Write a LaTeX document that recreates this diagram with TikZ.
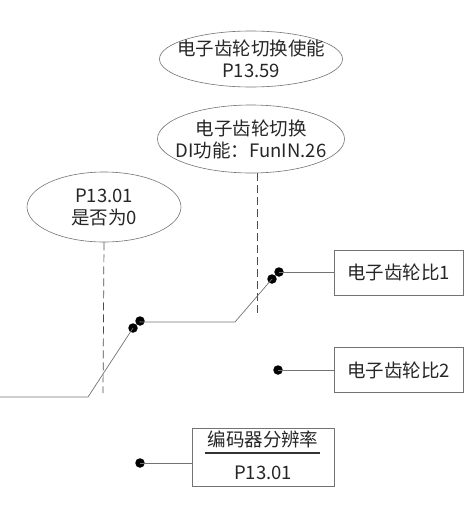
\documentclass[tikz,border=0pt]{standalone}
\usepackage{fontspec}
\setmainfont{Noto Sans CJK SC}
\usetikzlibrary{shapes.geometric}
\begin{document}
\begin{tikzpicture}[x=1pt,y=-1pt,
  lbl/.style={font=\fontsize{18.5}{22}\selectfont, align=center, text=black!85},
  ell/.style={ellipse, draw=black!55, line width=0.6pt, inner sep=0pt},
  bx/.style={draw=black!55, line width=0.6pt, minimum width=129pt, minimum height=45pt, font=\fontsize{18.5}{21.5}\selectfont, text=black!85},
  wire/.style={draw=black!55, line width=0.7pt},
  dsh/.style={draw=black!70, line width=0.7pt, dash pattern=on 8pt off 4pt},
  dot/.style={circle, fill=black, inner sep=0pt, minimum size=9.5pt}]
\useasboundingbox (0,0) rectangle (475,515);
% ellipses
\node[ell, minimum width=183pt, minimum height=56pt] (e1) at (251,59) {};
\node[lbl] (t1) at (e1) {电子齿轮切换使能\\P13.59};
\node[ell, minimum width=187pt, minimum height=68pt] (e2) at (251,139) {};
\node[lbl] (t2) at (e2) {电子齿轮切换\\DI功能：FunIN.26};
\node[ell, minimum width=154pt, minimum height=70pt] (e3) at (104,207) {};
\node[lbl] (t3) at (e3) {P13.01\\是否为0};
% boxes
\node[bx] (b1) at (398.5,272.5) {电子齿轮比1};
\node[bx] (b2) at (398.5,370) {电子齿轮比2};
\node[draw=black!55, line width=0.6pt, minimum width=142pt, minimum height=58pt] (b3) at (263,457) {};
\node[lbl] (num) at (263,439) {编码器分辨率};
\node[lbl] (den) at (263,473) {P13.01};
\draw[black!80, line width=1.2pt] (205,453) -- (320,453);
% dashed
\coordinate (d3) at (103,393);
\coordinate (d2) at (257,315);
\draw[dsh] (e3.south) -- (d3);
\draw[dsh] (e2.south -| d2) -- (d2);
% dots
\node[dot] (p1) at (133,328) {};
\node[dot] (p2) at (140,321) {};
\node[dot] (p3) at (272,279) {};
\node[dot] (p4) at (279,272) {};
\node[dot] (p5) at (278,370) {};
\node[dot] (p6) at (140,463) {};
% wires
\coordinate (s0) at (0,397);
\coordinate (s1) at (88,397);
\coordinate (k1) at (235,322);
\draw[wire] (s0) -- (s1) -- (p1.center);
\draw[wire] (p2.center) -- (140,322) -- (k1) -- (p3.center);
\draw[wire] (p4.center) -- (b1.west |- p4.center);
\draw[wire] (p5.center) -- (b2.west);
\draw[wire] (p6.center) -- (b3.west |- p6.center);
\end{tikzpicture}
\end{document}
